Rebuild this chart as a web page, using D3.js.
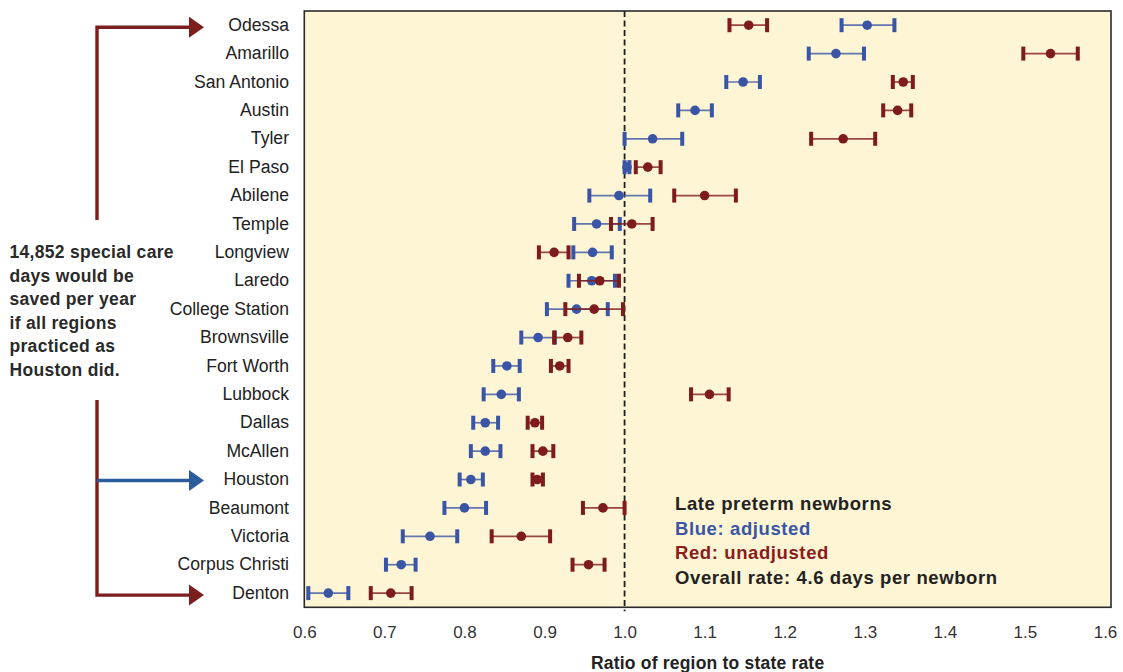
<!DOCTYPE html>
<html>
<head>
<meta charset="utf-8">
<script src="https://cdn.jsdelivr.net/npm/d3@7"></script>
<style>
  html, body { margin: 0; padding: 0; background: #ffffff; }
  svg { display: block; font-family: "Liberation Sans", Arial, sans-serif; }
</style>
</head>
<body>
<svg id="chart" width="1123" height="672"></svg>
<script>
// ---------------- data ----------------
const categories = ["Odessa","Amarillo","San Antonio","Austin","Tyler","El Paso","Abilene","Temple",
  "Longview","Laredo","College Station","Brownsville","Fort Worth","Lubbock","Dallas","McAllen",
  "Houston","Beaumont","Victoria","Corpus Christi","Denton"];
// adjusted (blue)
const adjMid = [1.303,1.264,1.148,1.088,1.035,1.003,0.993,0.965,0.960,0.959,0.940,0.892,0.853,0.846,0.826,0.826,0.808,0.800,0.757,0.721,0.630];
const adjLo  = [1.271,1.230,1.127,1.067,1.000,1.000,0.956,0.937,0.936,0.930,0.903,0.871,0.836,0.824,0.811,0.808,0.794,0.775,0.723,0.702,0.605];
const adjHi  = [1.337,1.299,1.169,1.109,1.072,1.006,1.032,0.994,0.984,0.988,0.979,0.913,0.869,0.868,0.842,0.845,0.823,0.827,0.791,0.739,0.655];
// unadjusted (red)
const unMid  = [1.155,1.532,1.348,1.341,1.273,1.029,1.100,1.009,0.912,0.969,0.962,0.929,0.919,1.106,0.888,0.898,0.891,0.973,0.871,0.955,0.708];
const unLo   = [1.131,1.498,1.335,1.323,1.233,1.014,1.062,0.983,0.893,0.943,0.926,0.912,0.908,1.083,0.879,0.885,0.885,0.948,0.834,0.935,0.683];
const unHi   = [1.178,1.566,1.360,1.358,1.313,1.045,1.139,1.035,0.930,0.993,0.998,0.946,0.930,1.130,0.897,0.911,0.898,1.000,0.907,0.975,0.734];
const xTicks = [0.6,0.7,0.8,0.9,1.0,1.1,1.2,1.3,1.4,1.5,1.6];
const xDomain = [0.6, 1.6];
const refValue = 1.0;
const legendLines = ["Late preterm newborns","Blue: adjusted","Red: unadjusted","Overall rate: 4.6 days per newborn"];
const noteLines = ["14,852 special care","days would be","saved per year","if all regions","practiced as","Houston did."];
const xTitle = "Ratio of region to state rate";

// ---------------- layout ----------------
const svg = d3.select("#chart");
const plot = {left: 304.3, right: 1111, top: 11, bottom: 607.3};
const BLUE = "#3a55a5", RED = "#7e1b1b", BG = "#fef5d4";

const x = d3.scaleLinear().domain(xDomain).range([plot.left, 1105]);
const y = d3.scaleBand().domain(categories).range([plot.top, plot.bottom]).padding(0);
const yc = c => y(c) + y.bandwidth() / 2;

// background frame
svg.append("rect")
  .attr("x", plot.left).attr("y", plot.top)
  .attr("width", plot.right - plot.left).attr("height", plot.bottom - plot.top)
  .attr("fill", BG).attr("stroke", "#2a2a2a").attr("stroke-width", 1.6);

// reference dashed line
svg.append("line")
  .attr("x1", x(refValue)).attr("x2", x(refValue))
  .attr("y1", plot.top).attr("y2", plot.bottom + 4)
  .attr("stroke", "#1e1e1e").attr("stroke-width", 1.8).attr("stroke-dasharray", "6,3.5");

// x axis labels
const xAxis = d3.axisBottom(x).tickValues(xTicks).tickFormat(d3.format(".1f")).tickSize(0).tickPadding(0);
const gx = svg.append("g").attr("transform", `translate(0,${plot.bottom + 19})`).call(xAxis);
gx.select(".domain").remove();
gx.selectAll("text").attr("font-size", 17).attr("fill", "#333")
  .attr("font-family", "'Liberation Sans', Arial, sans-serif");

svg.append("text").attr("x", (plot.left + plot.right) / 2).attr("y", 669)
  .attr("text-anchor", "middle").attr("font-weight", "bold").attr("font-size", 17.5)
  .attr("letter-spacing", 0.2).attr("fill", "#222")
  .text(xTitle);

// y labels
const yAxis = d3.axisLeft(y).tickSize(0).tickPadding(0);
const gy = svg.append("g").attr("transform", `translate(289,0)`).call(yAxis);
gy.select(".domain").remove();
gy.selectAll("text").attr("font-size", 17.6).attr("fill", "#222")
  .attr("font-family", "'Liberation Sans', Arial, sans-serif");

// series
function drawSeries(mid, lo, hi, color) {
  const g = svg.append("g");
  const rows = categories.map((c, i) => ({c, m: mid[i], l: lo[i], h: hi[i]}));
  g.selectAll("line.w").data(rows).join("line")
    .attr("x1", d => x(d.l)).attr("x2", d => x(d.h))
    .attr("y1", d => yc(d.c)).attr("y2", d => yc(d.c))
    .attr("stroke", color).attr("stroke-width", 1.7).attr("stroke-opacity", 0.8);
  const caps = rows.flatMap(d => [{c: d.c, v: d.l}, {c: d.c, v: d.h}]);
  g.selectAll("rect.cap").data(caps).join("rect")
    .attr("x", d => x(d.v) - 2).attr("y", d => yc(d.c) - 7)
    .attr("width", 4).attr("height", 14).attr("fill", color);
  g.selectAll("circle").data(rows).join("circle")
    .attr("cx", d => x(d.m)).attr("cy", d => yc(d.c)).attr("r", 4.8).attr("fill", color);
}
drawSeries(adjMid, adjLo, adjHi, BLUE);
drawSeries(unMid, unLo, unHi, RED);

// legend text
const legendColors = ["#222", BLUE, "#8a1c1c", "#222"];
svg.append("g").selectAll("text").data(legendLines).join("text")
  .attr("x", 675).attr("y", (d, i) => 510 + i * 24.5)
  .attr("font-weight", "bold").attr("font-size", 18.5).attr("letter-spacing", 0.6)
  .attr("fill", (d, i) => legendColors[i]).text(d => d);

// left annotation
svg.append("g").selectAll("text").data(noteLines).join("text")
  .attr("x", 9.5).attr("y", (d, i) => 258 + i * 23.5)
  .attr("font-weight", "bold").attr("font-size", 17.5).attr("letter-spacing", 0.3)
  .attr("fill", "#2a2a2a").text(d => d);

// bracket arrows
const ARED = "#7d1e1e", ABLUE = "#2b5d9c";
const vx = 97, tipX = 204, headLen = 14, headHalf = 10.5;
const yTop = yc(categories[0]) + 2, yBot = yc(categories[categories.length - 1]) + 2;
const yHou = yc("Houston") + 1;
const ann = svg.append("g");
ann.append("path").attr("d", `M${vx},220 V${yTop} H${tipX - headLen}`)
  .attr("fill", "none").attr("stroke", ARED).attr("stroke-width", 3.4);
ann.append("path").attr("d", `M${vx},400 V${yBot} H${tipX - headLen}`)
  .attr("fill", "none").attr("stroke", ARED).attr("stroke-width", 3.4);
ann.append("line").attr("x1", vx).attr("x2", tipX - headLen).attr("y1", yHou).attr("y2", yHou)
  .attr("stroke", ABLUE).attr("stroke-width", 3.4);
function head(yy, col) {
  ann.append("path")
    .attr("d", `M${tipX - headLen - 1},${yy - headHalf} L${tipX},${yy} L${tipX - headLen - 1},${yy + headHalf} Z`)
    .attr("fill", col);
}
head(yTop, ARED); head(yBot, ARED); head(yHou, ABLUE);
</script>
</body>
</html>
